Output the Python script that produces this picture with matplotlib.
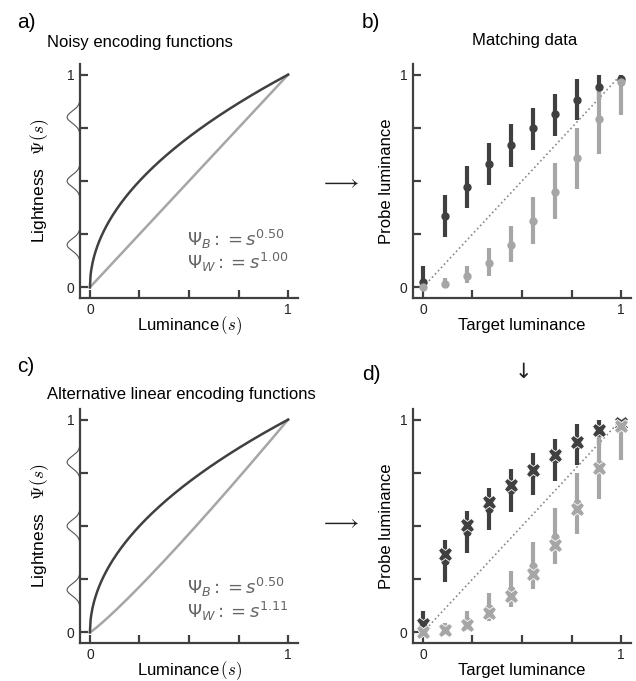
import numpy as np
import matplotlib.pyplot as plt

plt.rcParams['font.family'] = ['Liberation Sans', 'DejaVu Sans']

# encoding exponents (panel a and c)
exp_a = [0.50, 1.00]
exp_c = [0.50, 1.11]
noise_centers = [0.2, 0.5, 0.8]

# matching data (panels b, d)
target = [0, 1/9, 2/9, 3/9, 4/9, 5/9, 6/9, 7/9, 8/9, 1]
black_mean = [0.023, 0.336, 0.472, 0.578, 0.667, 0.747, 0.816, 0.883, 0.941, 0.981]
black_lo = [0.008, 0.239, 0.372, 0.481, 0.566, 0.648, 0.711, 0.786, 0.883, 0.95]
black_hi = [0.102, 0.433, 0.570, 0.677, 0.766, 0.844, 0.911, 0.981, 1.0, 1.0]
white_mean = [0.003, 0.016, 0.053, 0.114, 0.200, 0.312, 0.448, 0.609, 0.792, 0.964]
white_lo = [0.0, 0.005, 0.019, 0.055, 0.120, 0.206, 0.320, 0.461, 0.625, 0.812]
white_hi = [0.01, 0.042, 0.102, 0.183, 0.289, 0.427, 0.583, 0.750, 0.930, 0.984]
# model predictions (panel d)
black_pred = [0.039, 0.369, 0.507, 0.612, 0.695, 0.765, 0.835, 0.895, 0.950, 0.984]
white_pred = [0.0, 0.013, 0.036, 0.089, 0.170, 0.275, 0.411, 0.578, 0.774, 0.970]

DARK = '#404040'
LIGHT = '#a6a6a6'
AX = '#404040'

fig = plt.figure(figsize=(6.36, 6.81), dpi=100)
W, H = 636, 681


def make_ax(left, bottom_px):
    ax = fig.add_axes([left / W, 1 - bottom_px / H, 218 / W, 234 / H])
    ax.set_xlim(-0.05, 1.05)
    ax.set_ylim(-0.05, 1.05)
    for s in ['top', 'right']:
        ax.spines[s].set_visible(False)
    for s in ['left', 'bottom']:
        ax.spines[s].set_color(AX)
        ax.spines[s].set_linewidth(1.6)
    ticks = [0, 0.25, 0.5, 0.75, 1]
    ax.set_xticks(ticks, ['0', '', '', '', '1'])
    ax.set_yticks(ticks, ['0', '', '', '', '1'])
    ax.tick_params(direction='in', length=5.5, width=1.6, color=AX,
                   labelsize=10, labelcolor='#222222')
    ax.tick_params(axis='x', pad=3.5)
    ax.tick_params(axis='y', pad=4)
    return ax


def encoding(ax, exps, ytxt):
    s = np.linspace(0, 1, 300)
    ax.plot(s, s ** exps[1], color=LIGHT, lw=1.8, zorder=2)
    ax.plot(s, s ** exps[0], color=DARK, lw=1.8, zorder=3)
    # noise distributions drawn along the y axis
    y = np.linspace(0.12, 0.88, 400)
    g = sum(np.exp(-0.5 * ((y - c) / 0.028) ** 2) for c in noise_centers)
    ax.plot(-0.05 - 0.065 * g, y, color='#555555', lw=0.8, clip_on=False)
    ax.text(0.49, ytxt[0], r'$\Psi_B: = s^{%.2f}$' % exps[0], color='#666666',
            fontsize=13, va='center')
    ax.text(0.49, ytxt[1], r'$\Psi_W: = s^{%.2f}$' % exps[1], color='#666666',
            fontsize=13, va='center')
    ax.set_xlabel(r'Luminance$\,(s)$', fontsize=12, labelpad=-1.5,
                  math_fontfamily='cm')
    ax.set_ylabel(r'Lightness   $\Psi(s)$', fontsize=12.5, labelpad=11,
                  math_fontfamily='cm')


def matching(ax, preds=False):
    ax.plot([0, 1], [0, 1], ls=':', color='#888888', lw=1.2, zorder=1)
    for mean, lo, hi, col in [(black_mean, black_lo, black_hi, DARK),
                              (white_mean, white_lo, white_hi, LIGHT)]:
        mean = np.array(mean)
        err = [mean - np.array(lo), np.array(hi) - mean]
        ax.errorbar(target, mean, yerr=err, fmt='o', color=col, ms=5,
                    elinewidth=3, capsize=0, zorder=3, clip_on=False)
    if preds:
        ax.plot(target, black_pred, 'X', color=DARK, ms=10.5, mec='white',
                mew=0.6, zorder=5, clip_on=False)
        ax.plot(target, white_pred, 'X', color=LIGHT, ms=10.5, mec='white',
                mew=0.6, zorder=5, clip_on=False)
    ax.set_xlabel('Target luminance', fontsize=12, labelpad=1)
    ax.set_ylabel('Probe luminance', fontsize=12, labelpad=4)


ax_a = make_ax(80, 298)
encoding(ax_a, exp_a, [0.225, 0.117])
ax_b = make_ax(413, 298)
matching(ax_b)
ax_c = make_ax(80, 643)
encoding(ax_c, exp_c, [0.21, 0.10])
ax_d = make_ax(413, 643)
matching(ax_d, preds=True)

# panel letters and titles
for x, y, t in [(17, 22, 'a)'), (362, 22, 'b)'), (17, 367, 'c)'), (362, 375, 'd)')]:
    fig.text(x / W, 1 - y / H, t, fontsize=15, va='center', ha='left')
fig.text(47 / W, 1 - 43 / H, 'Noisy encoding functions', fontsize=12, va='center')
fig.text(47 / W, 1 - 395 / H, 'Alternative linear encoding functions', fontsize=12,
         va='center')
fig.text(525 / W, 1 - 40 / H, 'Matching data', fontsize=12, va='center', ha='center')

# arrows
for y in [183, 523]:
    fig.text(340 / W, 1 - y / H, r'$\longrightarrow$', fontsize=16, ha='center',
             va='center', math_fontfamily='cm', color='#222222')
fig.text(523 / W, 1 - 372 / H, '\u2193', fontsize=15, ha='center', va='center',
         color='#222222', family='DejaVu Sans')

fig.savefig('out.png', dpi=100)
